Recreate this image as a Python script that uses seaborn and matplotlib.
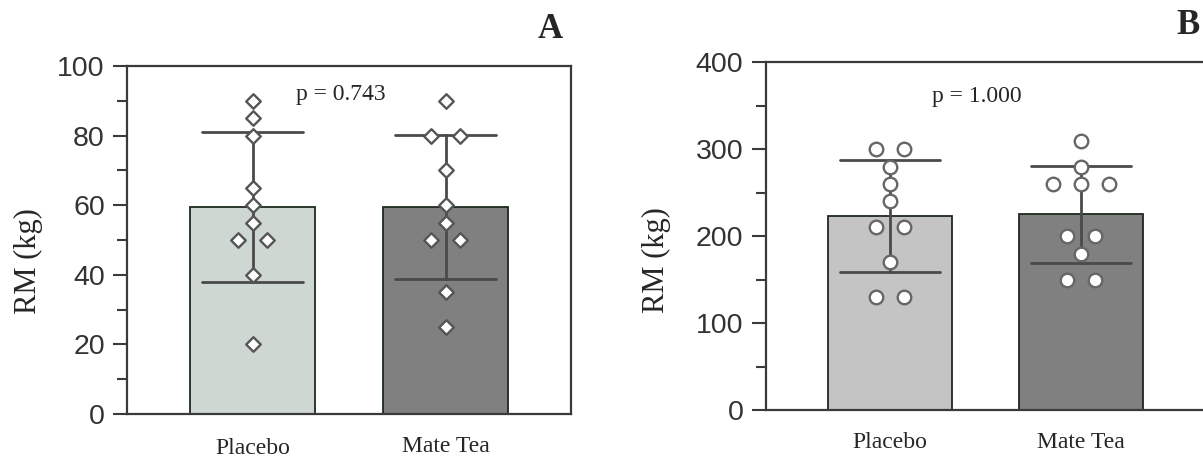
import numpy as np
import pandas as pd
import seaborn as sns
import matplotlib.pyplot as plt
from matplotlib.ticker import MultipleLocator
from matplotlib.transforms import ScaledTranslation

groups = ["Placebo", "Mate Tea"]

# panel A - individual values (kg)
rm_a_placebo = [90, 85, 80, 65, 60, 55, 50, 50, 40, 20]
rm_a_mate = [90, 80, 80, 70, 60, 55, 50, 50, 35, 25]
p_text_a = "p = 0.743"

# panel B - individual values (kg)
rm_b_placebo = [300, 300, 280, 260, 240, 210, 210, 170, 130, 130]
rm_b_mate = [310, 280, 260, 260, 260, 200, 200, 180, 150, 150]
p_text_b = "p = 1.000"

colors_a = ["#CDD9D1", "#808080"]
colors_b = ["#C4C4C4", "#808080"]


def long_table(placebo, mate):
    return pd.DataFrame({
        "group": [groups[0]] * len(placebo) + [groups[1]] * len(mate),
        "rm": placebo + mate,
    })


def tie_offsets(values, step=0.146):
    # put equal values side by side, centred on the bar
    vals = np.asarray(values)
    out = np.zeros(len(vals))
    for v in np.unique(vals):
        idx = np.where(vals == v)[0]
        out[idx] = (np.arange(len(idx)) - (len(idx) - 1) / 2) * step
    return out


def draw_panel(ax, placebo, mate, colors, marker, msize, ecol, ymax, ystep, yminor, ptext, ppos):
    df = long_table(placebo, mate)
    sns.barplot(data=df, x="group", y="rm", hue="group", order=groups, hue_order=groups,
                palette=colors, errorbar="sd", capsize=0.52, width=0.65,
                edgecolor="#1d2a1d", linewidth=1.3,
                err_kws={"color": "#4a4a4a", "linewidth": 2.0},
                legend=False, ax=ax)

    df["xpos"] = df["group"].map({g: i for i, g in enumerate(groups)}) + \
        np.concatenate([tie_offsets(placebo), tie_offsets(mate)])
    sns.scatterplot(data=df, x="xpos", y="rm", marker=marker, s=msize, color="white",
                    edgecolor=ecol, linewidth=1.7, zorder=4, legend=False, ax=ax)

    ax.set_xlim(-0.65, 1.65)
    ax.set_ylim(0, ymax)
    yt = np.arange(0, ymax + 1, ystep)
    ax.set_yticks(yt, labels=[str(t) for t in yt], fontfamily="Liberation Sans")
    ax.yaxis.set_minor_locator(MultipleLocator(yminor))
    ax.set_xticks(range(len(groups)), labels=groups)
    ax.set_xlabel("")

    ax.tick_params(axis="y", which="major", length=10, width=1.5, color="#3a3a3a",
                   labelsize=20.5, labelcolor="#333333", pad=6)
    ax.tick_params(axis="y", which="minor", length=7, width=1.5, color="#3a3a3a")
    ax.tick_params(axis="x", length=0, labelsize=17, pad=16)
    for sp in ax.spines.values():
        sp.set_visible(True)
        sp.set_linewidth(1.6)
        sp.set_color("#3a3a3a")

    ax.text(ppos[0], ppos[1], ptext, ha="center", va="center", fontsize=17)
    ax.set_ylabel("RM (kg)", fontsize=22)


sns.set_theme(style="ticks")
plt.rcParams["font.family"] = ["Liberation Serif", "DejaVu Serif"]

fig = plt.figure(figsize=(12.03, 4.58), dpi=100)
ax_a = fig.add_axes([0.1056, 0.0961, 0.3691, 0.7598])
ax_b = fig.add_axes([0.6365, 0.1048, 0.3652, 0.7592])

draw_panel(ax_a, rm_a_placebo, rm_a_mate, colors_a, "D", 55, "#555555",
           100, 20, 10, p_text_a, (0.455, 91.7))
draw_panel(ax_b, rm_b_placebo, rm_b_mate, colors_b, "o", 95, "#666666",
           400, 100, 50, p_text_b, (0.455, 361))

ax_a.yaxis.set_label_coords(-0.19, 0.44)
ax_b.yaxis.set_label_coords(-0.216, 0.43)

# placebo label of panel A sits a little lower in the original
lbl = ax_a.get_xticklabels()[0]
lbl.set_transform(lbl.get_transform() + ScaledTranslation(0, -1.5 / 72, fig.dpi_scale_trans))

fig.text(550 / 1203, 1 - 30 / 458, "A", fontsize=25, fontweight="bold", ha="center", va="center")
fig.text(1188 / 1203, 1 - 26 / 458, "B", fontsize=25, fontweight="bold", ha="center", va="center")

fig.savefig("out.png", dpi=100)
